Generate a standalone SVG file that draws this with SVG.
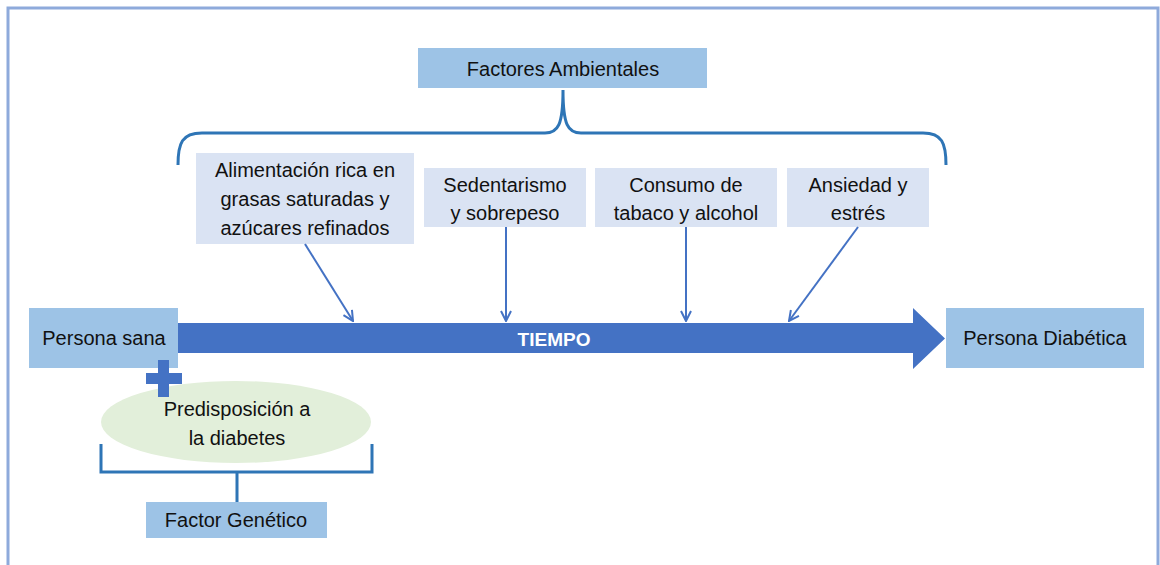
<svg xmlns="http://www.w3.org/2000/svg" width="1160" height="565" viewBox="0 0 1160 565">
<style>
.t{font-family:"Liberation Sans",Arial,sans-serif;font-size:20px;fill:#111;text-anchor:middle;dominant-baseline:central}
.dark{fill:#9dc3e6}
.light{fill:#dae3f3}
.br{fill:none;stroke:#2e75b6;stroke-width:3}
.ar{stroke:#4472c4;stroke-width:2;fill:none;marker-end:url(#ah)}
</style>
<defs>
<marker id="ah" viewBox="0 0 12 12" refX="11" refY="6" markerWidth="12" markerHeight="12" markerUnits="userSpaceOnUse" orient="auto">
<path d="M1,1 L11,6 L1,11" fill="none" stroke="#4472c4" stroke-width="2"/>
</marker>
</defs>
<rect x="0" y="0" width="1160" height="565" fill="#fff"/>
<rect x="8" y="8" width="1150" height="600" fill="none" stroke="#8eaadb" stroke-width="3"/>

<g id="factores-ambientales">
<rect class="dark" x="418" y="48" width="289" height="40"/>
<text class="t" x="563" y="69">Factores Ambientales</text>
</g>
<g id="brace-ambientales">
<path class="br" d="M178,165 C178,143 182,133 202,133 L545,133 C558,133 563,125 563,90 M563,90 C563,125 568,133 581,133 L923,133 C942,133 946,143 946,165"/>
</g>

<g id="alimentacion">
<rect class="light" x="196" y="153" width="218" height="91"/>
<text class="t" x="305" y="170">Alimentación rica en</text>
<text class="t" x="305" y="199">grasas saturadas y</text>
<text class="t" x="305" y="228">azúcares refinados</text>
</g>
<g id="sedentarismo">
<rect class="light" x="424" y="168" width="162" height="59"/>
<text class="t" x="505" y="185">Sedentarismo</text>
<text class="t" x="505" y="213">y sobrepeso</text>
</g>
<g id="consumo">
<rect class="light" x="595" y="168" width="182" height="59"/>
<text class="t" x="686" y="185">Consumo de</text>
<text class="t" x="686" y="213">tabaco y alcohol</text>
</g>
<g id="ansiedad">
<rect class="light" x="787" y="168" width="142" height="59"/>
<text class="t" x="858" y="185">Ansiedad y</text>
<text class="t" x="858" y="213">estrés</text>
</g>

<g id="tiempo">
<path d="M178,323 L913,323 L913,308 L945,338.5 L913,369 L913,353 L178,353 Z" fill="#4472c4"/>
<text class="t" x="554" y="339" style="fill:#fff;font-weight:bold;font-size:19px">TIEMPO</text>
</g>

<g id="connectors">
<line class="ar" x1="305" y1="244" x2="353" y2="321"/>
<line class="ar" x1="506" y1="227" x2="506" y2="321"/>
<line class="ar" x1="686" y1="227" x2="686" y2="321"/>
<line class="ar" x1="858" y1="227" x2="789" y2="321"/>
</g>

<g id="persona-sana">
<rect class="dark" x="29" y="308" width="149" height="60"/>
<text class="t" x="104" y="338">Persona sana</text>
</g>
<g id="persona-diabetica">
<rect class="dark" x="946" y="308" width="198" height="60"/>
<text class="t" x="1045" y="338">Persona Diabética</text>
</g>

<g id="predisposicion">
<ellipse cx="236" cy="422" rx="135" ry="41" fill="#e2efda"/>
<text class="t" x="237" y="409">Predisposición a</text>
<text class="t" x="237" y="438">la diabetes</text>
</g>
<g id="plus">
<rect x="158" y="360" width="11" height="37" fill="#4472c4"/>
<rect x="146" y="373" width="36" height="11" fill="#4472c4"/>
</g>

<g id="brace-genetico">
<path class="br" d="M101,444 L101,472 L372,472 L372,444 M237,472 L237,502"/>
</g>
<g id="factor-genetico">
<rect class="dark" x="146" y="502" width="181" height="36"/>
<text class="t" x="236" y="520">Factor Genético</text>
</g>
</svg>
